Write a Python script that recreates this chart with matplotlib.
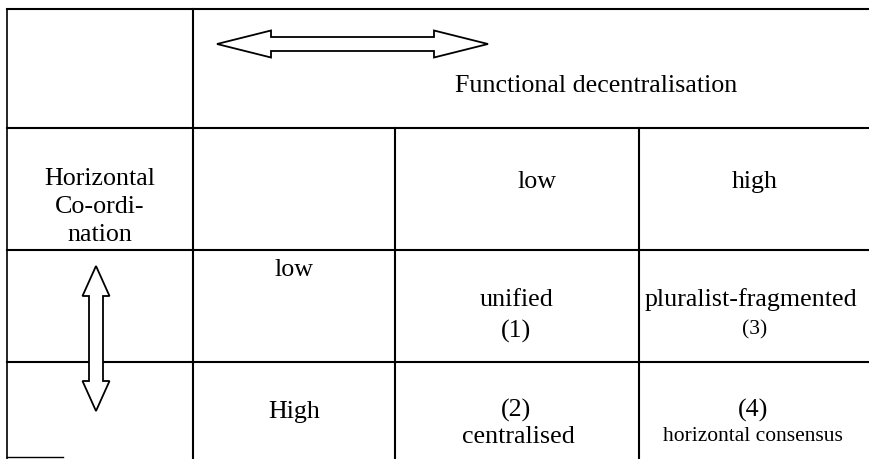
#----- importing modules -----
import matplotlib
matplotlib.use("Agg")
import matplotlib.pyplot as plt
from matplotlib.patches import Polygon

#----- table content -----
x_title = "Functional decentralisation"
y_title = "Horizontal\nCo-ordi-\nnation"
col_labels = ["low", "high"]
row_labels = ["low", "High"]
cell_names = [["unified", "pluralist-fragmented"],
              ["centralised", "horizontal consensus"]]
cell_numbers = [["(1)", "(3)"],
                ["(2)", "(4)"]]

#----- grid layout (pixels of the 869x460 picture) -----
col_edges = [7, 193, 395, 639, 869]
row_edges = [10, 129, 251, 363, 460]

plt.rcParams['font.family'] = ['Liberation Serif', 'DejaVu Serif']

fig = plt.figure(figsize=(8.69, 4.6), dpi=100)
ax = fig.add_axes([0, 0, 1, 1])
ax.set_xlim(0, 869)
ax.set_ylim(460, 0)
ax.axis('off')

lw = 1.5
# horizontal rules
for y in row_edges[:-1]:
    ax.plot([col_edges[0], col_edges[-1]], [y, y], color='black', lw=lw)
# vertical rules
ax.plot([col_edges[0], col_edges[0]], [row_edges[0], row_edges[-1]], color='black', lw=1.2)
ax.plot([col_edges[1], col_edges[1]], [row_edges[0], row_edges[-1]], color='black', lw=lw)
for x in col_edges[2:4]:
    ax.plot([x, x], [row_edges[1], row_edges[-1]], color='black', lw=lw)
ax.plot([col_edges[0], 63], [458, 458], color='black', lw=1.0)


#----- double arrow outline -----
def double_arrow(x0, y0, x1, y1, shaft, head_w, head_l):
    if y0 == y1:
        pts = [(x0, y0), (x0 + head_l, y0 - head_w / 2), (x0 + head_l, y0 - shaft / 2),
               (x1 - head_l, y0 - shaft / 2), (x1 - head_l, y0 - head_w / 2), (x1, y1),
               (x1 - head_l, y0 + head_w / 2), (x1 - head_l, y0 + shaft / 2),
               (x0 + head_l, y0 + shaft / 2), (x0 + head_l, y0 + head_w / 2)]
    else:
        pts = [(x0, y0), (x0 + head_w / 2, y0 + head_l), (x0 + shaft / 2, y0 + head_l),
               (x0 + shaft / 2, y1 - head_l), (x0 + head_w / 2, y1 - head_l), (x1, y1),
               (x0 - head_w / 2, y1 - head_l), (x0 - shaft / 2, y1 - head_l),
               (x0 - shaft / 2, y0 + head_l), (x0 - head_w / 2, y0 + head_l)]
    ax.add_patch(Polygon(pts, closed=True, facecolor='white', edgecolor='black',
                         lw=1.3, zorder=3))


double_arrow(217, 45, 488, 45, 14, 27, 54)
double_arrow(96, 267, 96, 412, 14, 27, 30)

#----- texts -----
big = 18.7
small = 15.5
ax.text(596, 86, x_title, fontsize=big, ha='center', va='center')
ax.text(100, 207, y_title, fontsize=big, ha='center', va='center', linespacing=1.38)

col_x = [537, 755]
for x, lab in zip(col_x, col_labels):
    ax.text(x, 182, lab, fontsize=big, ha='center', va='center')

ax.text(294, 270, row_labels[0], fontsize=big, ha='center', va='center')
ax.text(294, 412, row_labels[1], fontsize=big, ha='center', va='center')

# row "low": name on top, number below
ax.text(517, 300, cell_names[0][0], fontsize=big, ha='center', va='center')
ax.text(516, 331, cell_numbers[0][0], fontsize=big, ha='center', va='center')
ax.text(751, 300, cell_names[0][1], fontsize=big, ha='center', va='center')
ax.text(755, 330, cell_numbers[0][1], fontsize=small, ha='center', va='center')
# row "High": number on top, name below
ax.text(516, 410, cell_numbers[1][0], fontsize=big, ha='center', va='center')
ax.text(518, 437, cell_names[1][0], fontsize=big, ha='center', va='center')
ax.text(753, 410, cell_numbers[1][1], fontsize=big, ha='center', va='center')
ax.text(753, 437, cell_names[1][1], fontsize=small, ha='center', va='center')

plt.savefig("out.png", dpi=100)
